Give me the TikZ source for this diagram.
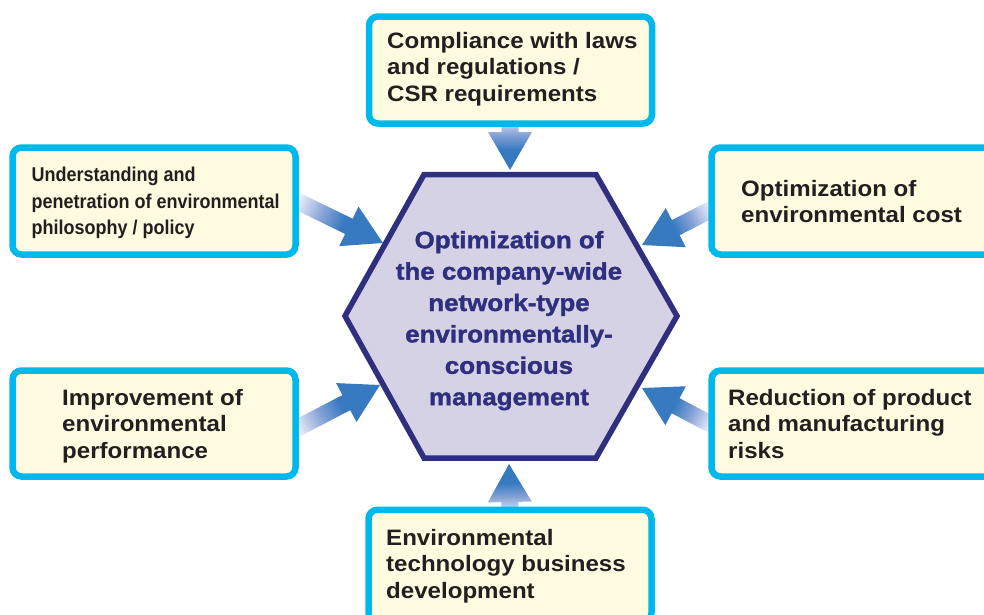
\documentclass[tikz,border=0pt]{standalone}
\usepackage{fontspec}
\setmainfont{Liberation Sans}
\newfontfamily\boxfont[FakeStretch=1.08]{Liberation Sans}
\newfontfamily\hexfont[FakeStretch=1.09, FakeBold=1.5]{Liberation Sans}
\newfontfamily\narrowfont[FakeStretch=0.9]{Liberation Sans}
\usetikzlibrary{calc}
\definecolor{boxcyan}{RGB}{0,185,236}
\definecolor{boxfill}{RGB}{255,251,224}
\definecolor{hexfill}{RGB}{212,210,228}
\definecolor{hexnavy}{RGB}{46,47,126}
\definecolor{txt}{RGB}{35,31,32}
\definecolor{arrblue}{RGB}{56,122,192}
\definecolor{arrmid}{RGB}{135,163,214}
\definecolor{arrlight}{RGB}{236,239,250}
\pgfdeclareverticalshading{arrshade}{100bp}{color(0bp)=(arrlight); color(25bp)=(arrlight); color(42bp)=(arrmid); color(56bp)=(arrblue); color(100bp)=(arrblue)}
\newcommand\gradarrow[2]{%
  \path (#1); \pgfgetlastxy{\gxa}{\gya}%
  \path (#2); \pgfgetlastxy{\gxb}{\gyb}%
  \pgfmathsetmacro\gang{atan2(\gyb-\gya,\gxb-\gxa)}%
  \pgfmathsetmacro\gsang{\gang-90}%
  \coordinate (gN) at ($(#2)!38pt!(#1)$);
  \shade[shading=arrshade, shading angle=\gsang]
    ($(#1)!8.5pt!90:(#2)$) -- ($(gN)!8.5pt!90:(#2)$) -- ($(gN)!22pt!90:(#2)$) -- (#2)
    -- ($(gN)!22pt!-90:(#2)$) -- ($(gN)!8.5pt!-90:(#2)$) -- ($(#1)!8.5pt!-90:(#2)$) -- cycle;
}
\tikzset{
  infobox/.style={draw=boxcyan, fill=boxfill, line width=6.5pt, rounded corners=9pt,
    rectangle, inner sep=0pt, minimum width=283pt, minimum height=107pt},
  boxtext/.style={anchor=north west, inner sep=0pt, align=left, text=txt,
    font=\boxfont\bfseries\fontsize{22.3}{26.6}\selectfont},
  narrowtext/.style={anchor=north west, inner sep=0pt, align=left, text=txt,
    font=\narrowfont\bfseries\fontsize{20}{26.2}\selectfont},
  hextext/.style={anchor=north, inner sep=0pt, align=center, text=hexnavy,
    font=\hexfont\bfseries\fontsize{23.8}{31.4}\selectfont}
}
\begin{document}
\begin{tikzpicture}[x=1pt, y=-1pt]
\useasboundingbox (0,0) rectangle (984,614);
\clip (0,0) rectangle (984,614);

% arrow end points
\coordinate (aT1) at (510,116);  \coordinate (aT2) at (510,170);
\coordinate (aUL1) at (290,197.6); \coordinate (aUL2) at (383,243);
\coordinate (aUR1) at (716,207); \coordinate (aUR2) at (642,245);
\coordinate (aLL1) at (290,432); \coordinate (aLL2) at (380,385);
\coordinate (aLR1) at (716,427); \coordinate (aLR2) at (642,388);
\coordinate (aB1) at (510,514);  \coordinate (aB2) at (509,464);

\gradarrow{aT1}{aT2}
\gradarrow{aUL1}{aUL2}
\gradarrow{aUR1}{aUR2}
\gradarrow{aLL1}{aLL2}
\gradarrow{aLR1}{aLR2}
\gradarrow{aB1}{aB2}

% hexagon
\draw[draw=hexnavy, fill=hexfill, line width=5.5pt, line join=miter]
  (424,174.5) -- (596,174.5) -- (677,316) -- (596,458) -- (424,458) -- (345,316) -- cycle;
\node[hextext] (hex) at (509,226) {\rule{0pt}{22pt}Optimization of\\the company-wide\\network-type\\environmentally-\\conscious\\management};

% boxes
\node[infobox] (bT) at (510.5,70) {};
\node[infobox] (bUL) at (154,201) {};
\node[infobox] (bUR) at (853,201) {};
\node[infobox, minimum height=106pt] (bLL) at (154,423.5) {};
\node[infobox, minimum height=106pt] (bLR) at (853,423.5) {};
\node[infobox, minimum height=112pt] (bB) at (510,565.75) {};

\node[boxtext] (tT) at (387,28) {\rule{0pt}{20pt}Compliance with laws\\and regulations /\\CSR requirements};
\node[narrowtext] (tUL) at (31.5,161.7) {\rule{0pt}{20pt}Understanding and\\penetration of environmental\\philosophy / policy};
\node[boxtext] (tUR) at (741,176) {\rule{0pt}{20pt}Optimization of\\environmental cost};
\node[boxtext] (tLL) at (62,385) {\rule{0pt}{20pt}Improvement of\\environmental\\performance};
\node[boxtext] (tLR) at (728,385) {\rule{0pt}{20pt}Reduction of product\\and manufacturing\\risks};
\node[boxtext] (tB) at (386,525) {\rule{0pt}{20pt}Environmental\\technology business\\development};
\end{tikzpicture}
\end{document}
